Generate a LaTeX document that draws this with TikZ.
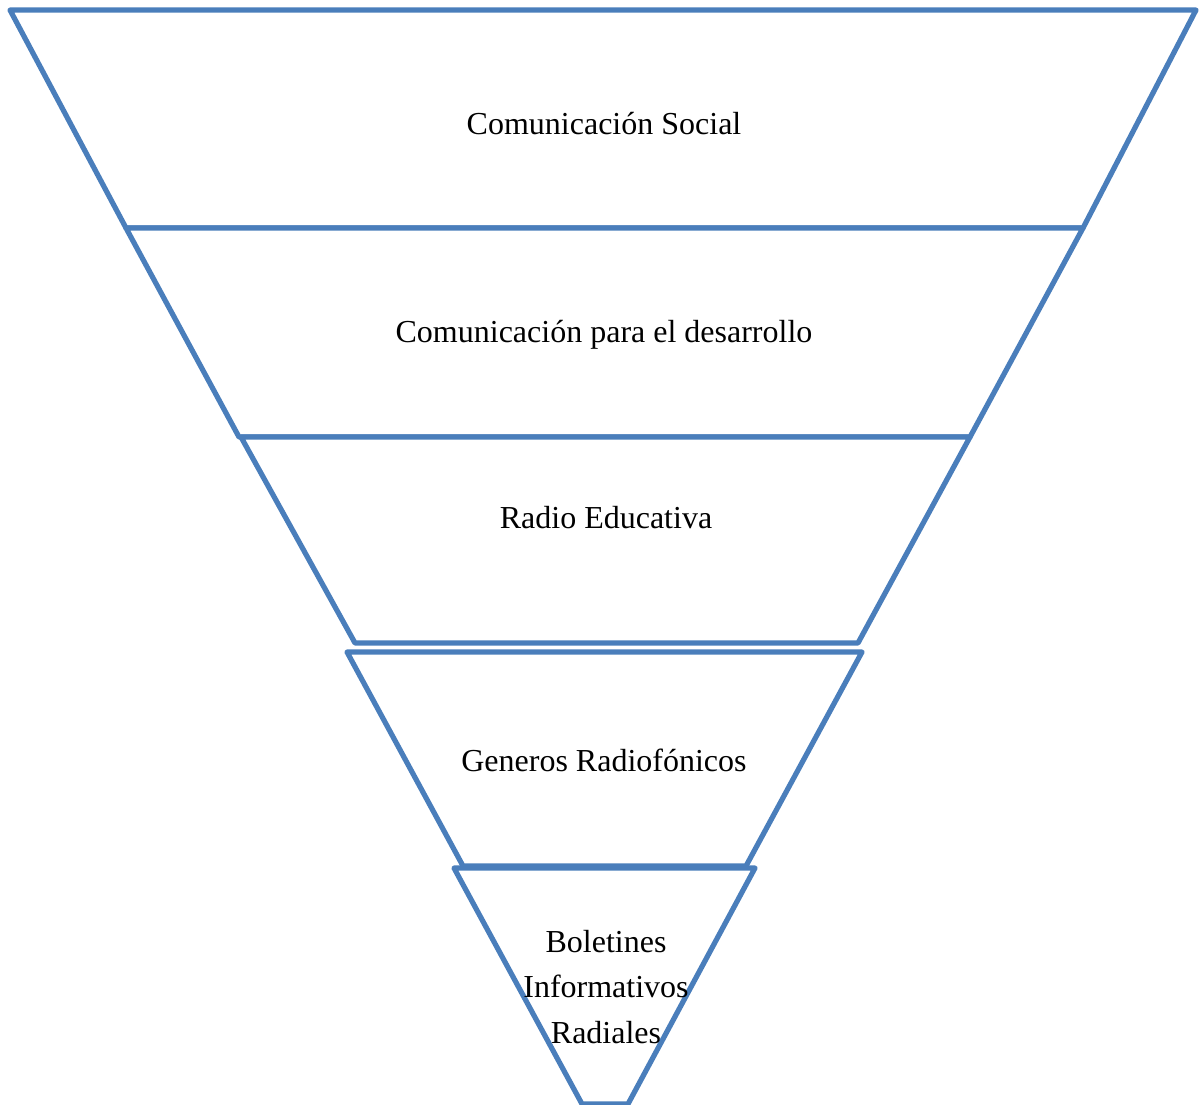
\documentclass[tikz,border=0pt]{standalone}
\usepackage{fontspec}
\setmainfont{Liberation Serif}
\definecolor{lineblue}{HTML}{4A7EBB}
\begin{document}
\begin{tikzpicture}[x=0.5pt,y=-0.5pt,
  level/.style={draw=lineblue,line width=2.6pt,line join=round,fill=white},
  lbl/.style={font=\fontsize{16}{22.75}\selectfont,align=center,inner sep=0pt}]
\useasboundingbox (0,0) rectangle (1204,1104);
% trapezoids
\draw[level] (10,10) -- (1196,10) -- (1083,228) -- (126,228) -- cycle;
\draw[level] (126,228) -- (1083,228) -- (970,437) -- (239,437) -- cycle;
\draw[level] (241,437) -- (970,437) -- (858,643) -- (355,643) -- cycle;
\draw[level] (347,652) -- (862,652) -- (746,866) -- (463,866) -- cycle;
\draw[level] (454,868) -- (755,868) -- (628,1104) -- (582,1104) -- cycle;
% labels
\node[lbl] (t1) at (604,124) {Comunicación Social};
\node[lbl] (t2) at (604,335) {Comunicación para el desarrollo};
\node[lbl] (t3) at (606,518) {Radio Educativa};
\node[lbl] (t4) at (604,760) {Generos Radiofónicos};
\node[lbl] (t5) at (606,987) {Boletines\\Informativos\\Radiales};
\end{tikzpicture}
\end{document}
